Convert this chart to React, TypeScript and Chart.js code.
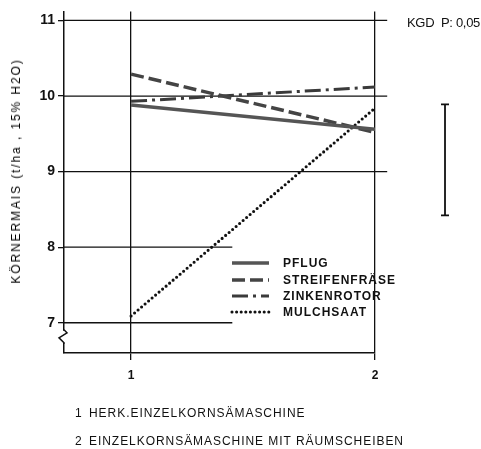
import React, { useEffect, useRef } from 'react';
import { Chart, registerables } from 'chart.js';

Chart.register(...registerables);

// ---------- data ----------
const categories = [1, 2];
const categoryLabels = ['1', '2'];
const yTicks = [7, 8, 9, 10, 11];
const seriesNames = ['PFLUG', 'STREIFENFRÄSE', 'ZINKENROTOR', 'MULCHSAAT'];
const pflug = [9.88, 9.56];
const streifenfraese = [10.29, 9.52];
const zinkenrotor = [9.93, 10.12];
const mulchsaat = [7.09, 9.84];
const kgdTop = 9.89;
const kgdValue = 1.47;
const kgdLabel = 'KGD  P: 0,05';
const yTitle = 'KÖRNERMAIS (t/ha , 15% H2O)';
const footnoteNumbers = ['1', '2'];
const footnotes = ['HERK.EINZELKORNSÄMASCHINE', 'EINZELKORNSÄMASCHINE MIT RÄUMSCHEIBEN'];

const FONT = "'Liberation Sans', Arial, Helvetica, sans-serif";
const INK = '#111';

const toPoints = (vals: number[]) => categories.map((c, i) => ({ x: c, y: vals[i] }));

const styles = [
  { color: '#555', width: 3.5, dash: [] as number[], cap: 'butt' },
  { color: '#444', width: 3.5, dash: [13, 5], cap: 'butt' },
  { color: '#3a3a3a', width: 3, dash: [16, 5, 3, 5], cap: 'butt' },
  { color: '#111', width: 3.1, dash: [0, 4.6], cap: 'round' },
];

const refPlugin = {
  id: 'refPlugin',
  beforeDatasetsDraw(chart: any) {
    const { ctx, scales } = chart;
    const x = scales.x;
    const y = scales.y;
    ctx.save();
    ctx.strokeStyle = INK;
    ctx.lineWidth = 1.3;
    yTicks.forEach((v) => {
      const py = y.getPixelForValue(v);
      const xEnd = v >= 9 ? x.getPixelForValue(2.05) : x.getPixelForValue(1.415);
      ctx.beginPath();
      ctx.moveTo(x.left, py);
      ctx.lineTo(xEnd, py);
      ctx.stroke();
    });
    ctx.restore();
  },
  afterDraw(chart: any) {
    const { ctx, scales, data } = chart;
    const x = scales.x;
    const y = scales.y;
    ctx.save();
    // axis break on y axis
    const p7 = y.getPixelForValue(7);
    const ax = x.left;
    ctx.fillStyle = '#fff';
    ctx.fillRect(ax - 2, p7 + 8, 4, 12);
    ctx.strokeStyle = INK;
    ctx.lineWidth = 1.5;
    ctx.beginPath();
    ctx.moveTo(ax, p7 + 7);
    ctx.lineTo(ax + 3, p7 + 10);
    ctx.lineTo(ax - 5, p7 + 15);
    ctx.lineTo(ax, p7 + 20);
    ctx.lineTo(ax, p7 + 21);
    ctx.stroke();

    // KGD bar
    const kx = x.getPixelForValue(2.287);
    const kyTop = y.getPixelForValue(kgdTop);
    const kyBot = y.getPixelForValue(kgdTop - kgdValue);
    ctx.lineWidth = 1.8;
    ctx.beginPath();
    ctx.moveTo(kx, kyTop);
    ctx.lineTo(kx, kyBot);
    ctx.moveTo(kx - 4, kyTop);
    ctx.lineTo(kx + 4, kyTop);
    ctx.moveTo(kx - 4, kyBot);
    ctx.lineTo(kx + 4, kyBot);
    ctx.stroke();

    // legend
    const lx0 = 232;
    const lx1 = 269;
    const tx = 283;
    const rowY = [263, 280, 296, 312];
    data.datasets.forEach((ds: any, i: number) => {
      const ry = rowY[i];
      ctx.strokeStyle = ds.borderColor;
      ctx.lineWidth = ds.borderWidth;
      ctx.setLineDash(ds.borderDash || []);
      ctx.lineCap = ds.borderCapStyle || 'butt';
      ctx.beginPath();
      ctx.moveTo(lx0, ry);
      ctx.lineTo(lx1, ry);
      ctx.stroke();
      ctx.setLineDash([]);
      ctx.lineCap = 'butt';
      ctx.fillStyle = INK;
      ctx.font = `bold 12px ${FONT}`;
      (ctx as any).letterSpacing = '1px';
      ctx.textBaseline = 'middle';
      ctx.textAlign = 'left';
      ctx.fillText(ds.label, tx, ry + 0.5);
    });
    ctx.restore();
  },
};

export default function App() {
  const canvasRef = useRef<HTMLCanvasElement | null>(null);

  useEffect(() => {
    if (!canvasRef.current) return;
    Chart.defaults.font.family = FONT;
    const seriesValues = [pflug, streifenfraese, zinkenrotor, mulchsaat];
    const chart = new Chart(canvasRef.current, {
      type: 'line',
      data: {
        datasets: seriesValues.map((vals, i) => ({
          label: seriesNames[i],
          data: toPoints(vals),
          borderColor: styles[i].color,
          borderWidth: styles[i].width,
          borderDash: styles[i].dash,
          borderCapStyle: styles[i].cap as any,
          pointRadius: 0,
          fill: false,
          tension: 0,
        })),
      },
      options: {
        responsive: false,
        animation: false,
        devicePixelRatio: 1,
        layout: { padding: { top: 10, right: 106, bottom: 56, left: 0 } },
        plugins: {
          legend: { display: false },
          tooltip: { enabled: false },
        },
        scales: {
          x: {
            type: 'linear',
            position: 'bottom',
            min: 0.725,
            max: 2,
            afterBuildTicks: (axis: any) => {
              axis.ticks = categories.map((v) => ({ value: v }));
            },
            afterFit: (scale: any) => {
              scale.height = 40;
            },
            ticks: {
              callback: (v: any) => {
                const idx = categories.indexOf(Number(v));
                return idx >= 0 ? categoryLabels[idx] : '';
              },
              color: INK,
              font: { size: 12, weight: 'bold' },
              padding: 8,
              maxRotation: 0,
            },
            grid: {
              color: INK,
              lineWidth: 1.3,
              drawOnChartArea: true,
              drawTicks: true,
              tickLength: 7,
            },
            border: { display: true, color: INK, width: 1.5 },
          },
          y: {
            type: 'linear',
            position: 'left',
            min: 6.6,
            max: 11.12,
            afterBuildTicks: (axis: any) => {
              axis.ticks = yTicks.map((v) => ({ value: v }));
            },
            afterFit: (scale: any) => {
              scale.width = 64;
            },
            ticks: {
              color: INK,
              font: { size: 14, weight: 'bold' },
              padding: 3,
            },
            grid: {
              color: INK,
              lineWidth: 1.3,
              drawOnChartArea: false,
              drawTicks: true,
              tickLength: 6,
            },
            border: { display: true, color: INK, width: 1.5 },
          },
        },
      },
      plugins: [refPlugin],
    } as any);
    return () => chart.destroy();
  }, []);

  return (
    <div
      style={{
        position: 'absolute',
        left: 0,
        top: 0,
        width: 481,
        height: 449,
        background: '#fff',
        fontFamily: FONT,
        color: INK,
        overflow: 'hidden',
      }}
    >
      <canvas ref={canvasRef} width={481} height={449} style={{ display: 'block' }} />
      <div
        style={{
          position: 'absolute',
          left: 16,
          top: 171,
          transform: 'translate(-50%, -50%) rotate(-90deg)',
          whiteSpace: 'nowrap',
          fontSize: 12,
          color: '#000',
          letterSpacing: '1.9px',
          lineHeight: '14px',
        }}
      >
        {yTitle}
      </div>
      <div
        style={{
          position: 'absolute',
          left: 407,
          top: 15,
          whiteSpace: 'pre',
          fontSize: 13,
          lineHeight: '16px',
          letterSpacing: '-0.3px',
        }}
      >
        {kgdLabel}
      </div>
      {footnotes.map((t, i) => (
        <div
          key={i}
          style={{
            position: 'absolute',
            left: 75,
            top: 405 + i * 28,
            whiteSpace: 'nowrap',
            fontSize: 12,
            lineHeight: '16px',
            letterSpacing: '0.95px',
          }}
        >
          <span style={{ display: 'inline-block', width: 14 }}>{footnoteNumbers[i]}</span>
          {t}
        </div>
      ))}
    </div>
  );
}
